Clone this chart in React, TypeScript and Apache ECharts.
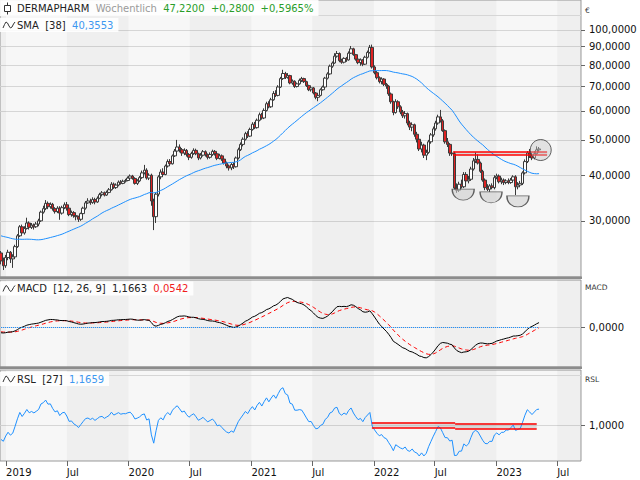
import React, { useEffect, useRef } from 'react';
import * as echarts from 'echarts';

const FONT = '"DejaVu Sans", Verdana, sans-serif';

// ---------- data (weekly candles, week starting Monday) ----------
const firstWeek = '2018-12-17';
const xRange = ['2018-12-14', '2023-09-10'];

// closes before the visible window (needed for SMA / MACD / RSL warm-up)
const warmupClose = [
  28.0, 27.2, 26.6, 26.0, 26.4, 25.8, 26.2,
  26.8, 27.4, 27.8, 28.2, 27.6, 28.0, 28.4, 28.0, 28.6, 28.2,
  28.8, 29.4, 29.8, 30.4, 30.8, 30.2, 30.6, 30.0, 29.6, 29.4, 29.2,
  28.6, 28.0, 27.6, 27.2, 27.4, 26.8, 25.4, 24.6, 24.6, 24.2, 23.8, 23.9, 24.0, 23.2, 23.0, 24.5,
];

const openVals = [
  24.5, 23.3, 22.6, 23.8, 24.6, 23.6, 23.9, 25.5, 27.3, 28.9,
  27.8, 28.6, 29.6, 28.8, 29.2, 28.9, 29.4, 30.0, 31.7, 32.4,
  33.5, 32.8, 33.3, 32.4, 31.8, 32.5, 31.5, 32.6, 33.2, 32.5,
  31.2, 31.6, 31.0, 30.8, 30.3, 31.4, 32.5, 33.6, 34.0, 33.7,
  34.3, 33.8, 34.6, 35.4, 35.8, 35.3, 35.9, 36.5, 37.8, 37.0,
  37.6, 38.3, 38.0, 38.5, 38.7, 39.3, 39.8, 39.2, 38.0, 38.6,
  39.4, 40.6, 41.3, 39.3, 40.0, 34.0, 30.8, 35.5, 39.6, 40.8,
  40.2, 42.4, 43.6, 43.0, 45.2, 46.6, 47.8, 47.0, 46.0, 46.8,
  45.6, 44.8, 45.9, 46.8, 45.8, 44.6, 45.4, 46.4, 45.5, 44.8,
  45.6, 46.5, 45.8, 44.5, 45.2, 44.3, 43.2, 42.4, 41.9, 42.8,
  42.2, 44.6, 47.0, 48.6, 50.2, 52.0, 51.2, 53.4, 55.2, 54.0,
  56.6, 58.6, 57.4, 60.2, 62.8, 61.6, 64.4, 67.0, 66.2, 69.8,
  73.6, 76.0, 74.2, 75.0, 71.6, 72.4, 70.0, 71.2, 72.8, 73.6,
  72.2, 70.4, 68.6, 69.4, 67.2, 65.4, 66.2, 68.6, 69.8, 73.8,
  75.8, 79.6, 81.2, 84.8, 86.2, 82.4, 81.6, 83.6, 82.8, 86.4,
  88.8, 85.6, 83.2, 81.4, 82.8, 80.6, 84.2, 86.8, 89.6, 79.2,
  76.4, 74.0, 72.2, 73.4, 71.0, 70.2, 66.8, 63.6, 59.4, 63.6,
  61.6, 59.6, 58.2, 59.0, 55.6, 54.2, 55.0, 51.8, 50.2, 47.2,
  48.4, 45.4, 46.2, 49.4, 51.6, 53.6, 55.6, 57.8, 56.4, 53.0,
  49.4, 48.6, 46.0, 45.8, 36.9, 36.4, 37.8, 37.2, 40.2, 38.6,
  39.0, 41.6, 43.8, 44.2, 43.2, 41.0, 38.8, 37.0, 36.6, 37.4,
  37.0, 39.4, 39.8, 38.4, 38.8, 38.2, 38.6, 38.2, 38.8, 39.6,
  37.2, 37.6, 38.0, 40.6, 43.6, 46.0, 45.4, 44.6, 45.8, 46.94,
];

const highVals = [
  24.8, 23.8, 24.2, 25.0, 24.8, 24.3, 25.8, 27.6, 29.2, 29.3,
  29.0, 30.6, 29.9, 29.6, 29.5, 29.8, 30.4, 32.0, 33.0, 34.2,
  33.9, 33.7, 33.6, 32.7, 32.9, 32.9, 33.0, 33.7, 33.8, 32.8,
  32.0, 31.9, 31.3, 31.0, 31.6, 32.8, 34.0, 34.6, 34.5, 34.8,
  34.7, 35.0, 35.8, 36.2, 36.1, 36.3, 36.9, 38.3, 38.2, 38.0,
  38.7, 38.8, 38.9, 39.1, 39.7, 40.2, 40.1, 39.5, 39.0, 39.8,
  41.2, 42.7, 41.8, 40.5, 40.4, 34.5, 35.8, 40.0, 41.5, 41.8,
  42.8, 44.2, 44.3, 45.6, 47.2, 50.0, 48.6, 47.5, 47.4, 47.2,
  46.0, 46.4, 47.4, 47.3, 46.1, 46.0, 46.9, 46.8, 45.9, 46.2,
  47.0, 46.9, 46.1, 45.8, 45.6, 44.6, 43.6, 42.8, 43.2, 43.4,
  45.0, 47.6, 49.2, 50.8, 52.6, 52.8, 54.0, 55.9, 56.0, 57.2,
  59.4, 59.3, 61.0, 63.6, 63.8, 65.2, 68.0, 68.4, 70.6, 74.4,
  77.8, 76.8, 76.2, 75.4, 73.2, 72.8, 71.8, 73.6, 74.4, 74.0,
  72.6, 70.8, 70.0, 69.8, 67.6, 66.8, 69.2, 70.4, 74.4, 76.6,
  80.4, 82.0, 86.4, 87.6, 86.8, 83.4, 84.2, 84.4, 87.4, 90.4,
  89.4, 86.0, 83.8, 83.6, 83.2, 85.0, 87.8, 91.0, 91.2, 80.0,
  77.2, 74.6, 74.2, 73.8, 71.6, 70.6, 67.4, 64.0, 64.6, 64.2,
  62.2, 60.4, 60.0, 59.4, 56.4, 55.8, 55.4, 52.6, 50.8, 49.4,
  48.8, 47.0, 50.0, 52.2, 54.4, 56.4, 58.6, 60.4, 57.0, 53.4,
  50.6, 49.0, 46.8, 46.4, 38.0, 38.4, 38.9, 40.8, 40.8, 39.8,
  42.2, 44.6, 46.2, 45.6, 43.6, 41.4, 39.2, 37.8, 37.8, 38.0,
  40.0, 40.4, 40.2, 39.4, 39.2, 39.0, 39.2, 39.3, 40.0, 40.0,
  38.3, 38.6, 41.0, 44.2, 46.6, 47.2, 46.2, 46.6, 48.0, 47.8,
];

const lowVals = [
  22.8, 22.0, 22.3, 23.4, 23.0, 22.3, 23.6, 25.3, 27.1, 27.4,
  27.5, 28.4, 28.4, 28.5, 28.4, 28.7, 29.0, 29.8, 31.4, 32.1,
  32.3, 32.4, 32.0, 31.4, 31.5, 30.2, 31.2, 32.3, 32.0, 30.9,
  30.8, 30.6, 30.1, 29.8, 30.0, 31.2, 32.2, 33.4, 33.2, 33.4,
  33.3, 33.6, 34.4, 35.0, 35.0, 35.1, 35.7, 36.3, 36.7, 36.7,
  37.3, 37.7, 37.8, 38.2, 38.5, 39.0, 38.9, 37.7, 37.6, 38.3,
  39.1, 40.2, 38.9, 38.8, 33.0, 28.3, 29.6, 35.0, 39.0, 39.6,
  40.0, 42.0, 42.5, 42.8, 44.9, 46.2, 46.2, 45.2, 45.4, 45.0,
  44.0, 44.4, 45.5, 45.4, 44.0, 44.2, 45.0, 45.0, 44.2, 44.4,
  45.2, 45.3, 44.0, 44.2, 43.8, 42.8, 41.8, 41.2, 41.3, 41.6,
  42.0, 44.2, 46.6, 48.0, 49.8, 50.6, 50.9, 53.0, 53.5, 53.7,
  56.2, 56.8, 57.0, 59.8, 61.0, 61.2, 64.0, 65.5, 65.8, 69.4,
  73.0, 73.4, 73.6, 71.0, 70.8, 69.4, 69.6, 70.8, 72.0, 71.6,
  69.8, 68.0, 67.8, 66.6, 64.6, 63.8, 65.8, 68.2, 69.4, 73.2,
  75.4, 78.8, 80.8, 84.0, 81.6, 80.8, 81.0, 81.8, 82.4, 86.0,
  85.0, 82.4, 80.6, 79.8, 79.6, 80.2, 83.6, 86.2, 78.4, 75.6,
  73.2, 71.4, 71.0, 70.2, 69.0, 66.0, 62.8, 58.4, 59.0, 60.8,
  58.8, 57.4, 57.2, 54.8, 53.2, 52.8, 51.0, 49.2, 46.6, 46.2,
  44.6, 44.0, 45.8, 48.8, 51.0, 53.0, 55.0, 55.8, 52.6, 48.8,
  47.8, 45.2, 45.2, 36.5, 35.8, 36.0, 36.8, 36.9, 38.2, 38.0,
  38.6, 41.2, 43.2, 42.8, 40.6, 38.4, 36.4, 36.2, 36.0, 36.6,
  36.6, 39.0, 38.0, 37.8, 37.6, 37.8, 37.8, 37.9, 38.4, 35.3,
  36.6, 37.1, 37.6, 40.2, 43.2, 44.6, 44.0, 44.2, 45.4, 46.2,
];

const closeVals = [
  23.3, 22.6, 23.8, 24.6, 23.6, 23.9, 25.5, 27.3, 28.9, 27.8,
  28.6, 29.6, 28.8, 29.2, 28.9, 29.4, 30.0, 31.7, 32.4, 33.5,
  32.8, 33.3, 32.4, 31.8, 32.5, 31.5, 32.6, 33.2, 32.5, 31.2,
  31.6, 31.0, 30.8, 30.3, 31.4, 32.5, 33.6, 34.0, 33.7, 34.3,
  33.8, 34.6, 35.4, 35.8, 35.3, 35.9, 36.5, 37.8, 37.0, 37.6,
  38.3, 38.0, 38.5, 38.7, 39.3, 39.8, 39.2, 38.0, 38.6, 39.4,
  40.6, 41.3, 39.3, 40.0, 34.0, 30.8, 35.5, 39.6, 40.8, 40.2,
  42.4, 43.6, 43.0, 45.2, 46.6, 47.8, 47.0, 46.0, 46.8, 45.6,
  44.8, 45.9, 46.8, 45.8, 44.6, 45.4, 46.4, 45.5, 44.8, 45.6,
  46.5, 45.8, 44.5, 45.2, 44.3, 43.2, 42.4, 41.9, 42.8, 42.2,
  44.6, 47.0, 48.6, 50.2, 52.0, 51.2, 53.4, 55.2, 54.0, 56.6,
  58.6, 57.4, 60.2, 62.8, 61.6, 64.4, 67.0, 66.2, 69.8, 73.6,
  76.0, 74.2, 75.0, 71.6, 72.4, 70.0, 71.2, 72.8, 73.6, 72.2,
  70.4, 68.6, 69.4, 67.2, 65.4, 66.2, 68.6, 69.8, 73.8, 75.8,
  79.6, 81.2, 84.8, 86.2, 82.4, 81.6, 83.6, 82.8, 86.4, 88.8,
  85.6, 83.2, 81.4, 82.8, 80.6, 84.2, 86.8, 89.6, 79.2, 76.4,
  74.0, 72.2, 73.4, 71.0, 70.2, 66.8, 63.6, 59.4, 63.6, 61.6,
  59.6, 58.2, 59.0, 55.6, 54.2, 55.0, 51.8, 50.2, 47.2, 48.4,
  45.4, 46.2, 49.4, 51.6, 53.6, 55.6, 57.8, 56.4, 53.0, 49.4,
  48.6, 46.0, 45.8, 36.9, 36.4, 37.8, 37.2, 40.2, 38.6, 39.0,
  41.6, 43.8, 44.2, 43.2, 41.0, 38.8, 37.0, 36.6, 37.4, 37.0,
  39.4, 39.8, 38.4, 38.8, 38.2, 38.6, 38.2, 38.8, 39.6, 37.2,
  37.6, 38.0, 40.6, 43.6, 46.0, 45.4, 44.6, 45.8, 46.94, 47.22,
];

// ---------- axes ----------
const priceTicks = [30, 40, 50, 60, 70, 80, 90, 100];
const priceExtraGrid = [110];
const macdTicks = [0];
const rslTicks = [1];
const rslExtraGrid = [1.5];
const xTickDates = [
  '2019-01-01', '2019-07-01', '2020-01-01', '2020-07-01', '2021-01-01',
  '2021-07-01', '2022-01-01', '2022-07-01', '2023-01-01', '2023-07-01',
];
const shadedHalfYears = [
  ['2018-07-01', '2019-01-01'], ['2019-07-01', '2020-01-01'], ['2020-07-01', '2021-01-01'],
  ['2021-07-01', '2022-01-01'], ['2022-07-01', '2023-01-01'], ['2023-07-01', '2024-01-01'],
];

// ---------- annotations ----------
const priceChannel = [['2022-08-25', '2023-06-01', 45.5, 46.3]];
const rslChannels = [
  ['2021-12-26', '2022-08-31', 0.98, 1.034],
  ['2022-08-31', '2023-05-01', 0.97, 1.024],
];
const bowlMarks = [['2022-09-24', 35.4], ['2022-12-16', 34.8], ['2023-03-06', 33.9]];
const ringMarks = [['2023-05-13', 46.9]];

// ---------- header texts ----------
const mainHeader = [['DERMAPHARM', 'k'], ['Wöchentlich', 'm'], ['47,2200', 'g'], ['+0,2800', 'g'], ['+0,5965%', 'g']];
const smaHeader = [['SMA', 'k'], ['[38]', 'k'], ['40,3553', 'b']];
const macdHeader = [['MACD', 'k'], ['[12, 26, 9]', 'k'], ['1,1663', 'k'], ['0,0542', 'r']];
const rslHeader = [['RSL', 'k'], ['[27]', 'k'], ['1,1659', 'b']];

const SMA_LEN = 38;
const RSL_LEN = 27;
const MACD_FAST = 12;
const MACD_SLOW = 26;
const MACD_SIG = 9;

// ---------- helpers ----------
function ts(s: string) {
  const [y, m, d] = s.split('-').map(Number);
  return new Date(y, m - 1, d).getTime();
}
function smaOf(arr: number[], n: number) {
  return arr.map((_, i) => {
    if (i < n - 1) return NaN;
    let s = 0;
    for (let k = i - n + 1; k <= i; k++) s += arr[k];
    return s / n;
  });
}
function emaOf(arr: number[], n: number) {
  const a = 2 / (n + 1);
  const out: number[] = [];
  let prev = arr[0];
  arr.forEach((v, i) => {
    prev = i === 0 ? v : a * v + (1 - a) * prev;
    out.push(prev);
  });
  return out;
}
const fmt4 = (v: number) => (Math.abs(v) < 1e-9 ? 0 : v).toFixed(4).replace('.', ',');
const lg = (v: number) => Math.log10(v);

function buildOption() {
  const t0 = ts(firstWeek);
  const dates = closeVals.map((_, i) => t0 + i * 7 * 86400000);
  const last = dates[dates.length - 1];
  const xMin = ts(xRange[0]);
  const xMax = ts(xRange[1]);

  const allClose = warmupClose.concat(closeVals);
  const W = warmupClose.length;
  const sma38 = smaOf(allClose, SMA_LEN).slice(W);
  const sma27 = smaOf(allClose, RSL_LEN).slice(W);
  const emaF = emaOf(allClose, MACD_FAST);
  const emaS = emaOf(allClose, MACD_SLOW);
  const macdAll = emaF.map((v, i) => v - emaS[i]);
  const sigAll = emaOf(macdAll, MACD_SIG);
  const macd = macdAll.slice(W);
  const sig = sigAll.slice(W);
  const rsl = closeVals.map((c, i) => c / sma27[i]);

  const mainYMin = 1.32329;
  const mainYMax = 2.08219;

  const bands = shadedHalfYears.map(([a, b]) => [
    { xAxis: Math.max(ts(a), xMin) },
    { xAxis: Math.min(ts(b), xMax) },
  ]);
  const xTicks = xTickDates.map(ts);

  const gridBase = {
    left: 0, right: 59, show: true, backgroundColor: '#f7f7f7',
    borderColor: '#9a9a9a', borderWidth: 1, containLabel: false, outerBoundsMode: 'none',
  };

  const xAxisFor = (k: number) => ({
    type: 'value', gridIndex: k, min: xMin, max: xMax, show: k === 2,
    axisLine: { show: false },
    axisTick: { show: k === 2, customValues: xTicks, length: 5, lineStyle: { color: '#666' } },
    axisLabel: {
      show: k === 2, customValues: xTicks, align: 'left', margin: 6, color: '#111',
      fontFamily: FONT, fontSize: 10,
      formatter: (v: number) => {
        const d = new Date(v);
        return d.getMonth() === 0 ? String(d.getFullYear()) : 'Jul';
      },
    },
    splitLine: { show: false },
  });

  const yAxisFor = (k: number, min: number, max: number, ticks: number[], fmt: (v: number) => string) => ({
    type: 'value', gridIndex: k, position: 'right', min, max,
    axisLine: { show: false },
    axisTick: { show: true, customValues: ticks, length: 4, lineStyle: { color: '#666' } },
    axisLabel: { customValues: ticks, formatter: fmt, margin: 8, color: '#111', fontFamily: FONT, fontSize: 10 },
    splitLine: { show: true, lineStyle: { color: '#d6d6d6', width: 1 } },
  });

  const hline = (a: number, b: number, v: number) => [{ coord: [a, v] }, { coord: [b, v] }];
  const markLineBase = { silent: true, symbol: ['none', 'none'], label: { show: false }, emphasis: { disabled: true } };

  const helper = (k: number, y: number) => ({
    type: 'line', xAxisIndex: k, yAxisIndex: k, data: [[xMin, y]], symbol: 'none',
    lineStyle: { opacity: 0 }, silent: true, z: 1, tooltip: { show: false },
  });

  const rich = {
    k: { fill: '#222', font: `10px ${FONT}` },
    m: { fill: '#9a9a9a', font: `10px ${FONT}` },
    g: { fill: '#2a9d2a', font: `10px ${FONT}` },
    b: { fill: '#3d98f0', font: `10px ${FONT}` },
    r: { fill: '#f01c1c', font: `10px ${FONT}` },
  };
  const header = (y: number, parts: string[][], padding: number[]) => ({
    type: 'text', x: 0, y, z: 100, silent: true,
    style: {
      text: parts.map(([t, c]) => `{${c}|${t}}`).join('  '),
      rich, font: `10px ${FONT}`, fill: '#222',
      backgroundColor: 'rgba(255,255,255,0.88)', padding, verticalAlign: 'top', align: 'left',
    },
  });
  const wave = (x0: number, cy: number) => ({
    type: 'polyline', z: 102, silent: true,
    shape: {
      points: [[0, 3], [1.5, -0.5], [3, -3], [4.5, -2], [6, 1], [7.5, 3], [9, 2], [10.5, -1], [12, -3]]
        .map(([dx, dy]) => [x0 + dx, cy + dy]),
    },
    style: { stroke: '#333', lineWidth: 1, fill: null },
  });
  const unit = (y: number, text: string) => ({
    type: 'text', x: 585, y, z: 100, silent: true,
    style: { text, fill: '#333', font: `7.5px ${FONT}`, verticalAlign: 'middle', align: 'left' },
  });

  return {
    animation: false,
    backgroundColor: '#ffffff',
    grid: [
      { ...gridBase, top: 0, height: 277 },
      { ...gridBase, top: 280, height: 87 },
      { ...gridBase, top: 370, height: 91 },
    ],
    xAxis: [xAxisFor(0), xAxisFor(1), xAxisFor(2)],
    yAxis: [
      yAxisFor(0, mainYMin, mainYMax, priceTicks.map(lg), (v) => fmt4(Math.pow(10, v))),
      yAxisFor(1, -9.5, 11.25, macdTicks, fmt4),
      yAxisFor(2, 0.647, 1.557, rslTicks, fmt4),
    ],
    series: [
      // ---- main panel ----
      {
        ...helper(0, mainYMin),
        markArea: { silent: true, itemStyle: { color: 'rgba(0,0,0,0.032)' }, data: bands },
        markLine: {
          ...markLineBase, lineStyle: { color: '#d6d6d6', width: 1, type: 'solid' },
          data: priceExtraGrid.map((v) => ({ yAxis: lg(v) })),
        },
      },
      {
        type: 'candlestick', xAxisIndex: 0, yAxisIndex: 0, barWidth: 3, z: 2,
        data: dates.map((d, i) => [d, lg(openVals[i]), lg(closeVals[i]), lg(lowVals[i]), lg(highVals[i])]),
        itemStyle: { color: '#ffffff', color0: '#e02222', borderColor: '#3a3a3a', borderColor0: '#3a3a3a', borderWidth: 1 },
        silent: true,
      },
      {
        type: 'line', xAxisIndex: 0, yAxisIndex: 0, z: 3, symbol: 'none', silent: true,
        data: dates.map((d, i) => [d, lg(sma38[i])]),
        lineStyle: { color: '#1e90ff', width: 1 },
      },
      {
        ...helper(0, mainYMin), z: 4,
        markArea: {
          silent: true, itemStyle: { color: 'rgba(185,185,185,0.45)' },
          data: priceChannel.map(([a, b, lo, hi]) => [
            { xAxis: ts(a as string), yAxis: lg(hi as number) },
            { xAxis: ts(b as string), yAxis: lg(lo as number) },
          ]),
        },
        markLine: {
          ...markLineBase, lineStyle: { color: '#ff0000', width: 1.5, type: 'solid' },
          data: priceChannel.flatMap(([a, b, lo, hi]) => [
            hline(ts(a as string), ts(b as string), lg(hi as number)),
            hline(ts(a as string), ts(b as string), lg(lo as number)),
          ]),
        },
      },
      {
        type: 'scatter', xAxisIndex: 0, yAxisIndex: 0, z: 6, silent: true,
        data: bowlMarks.map(([d, p]) => [ts(d as string), lg(p as number)]),
        symbol: 'path://M0,0 C0,13.333 20,13.333 20,0 Z', symbolSize: [22, 11],
        itemStyle: { color: 'rgba(205,205,205,0.7)', borderColor: '#3c3c3c', borderWidth: 1 },
      },
      {
        type: 'scatter', xAxisIndex: 0, yAxisIndex: 0, z: 6, silent: true,
        data: ringMarks.map(([d, p]) => [ts(d as string), lg(p as number)]),
        symbol: 'circle', symbolSize: 21,
        itemStyle: { color: 'rgba(200,200,200,0.55)', borderColor: '#3c3c3c', borderWidth: 1 },
      },
      // ---- MACD panel ----
      {
        ...helper(1, 0),
        markArea: { silent: true, itemStyle: { color: 'rgba(0,0,0,0.032)' }, data: bands },
      },
      {
        type: 'line', xAxisIndex: 1, yAxisIndex: 1, z: 3, symbol: 'none', silent: true,
        data: dates.map((d, i) => [d, sig[i]]),
        lineStyle: { color: '#ff0000', width: 1, type: [4, 3] },
      },
      {
        type: 'line', xAxisIndex: 1, yAxisIndex: 1, z: 4, symbol: 'none', silent: true,
        data: dates.map((d, i) => [d, macd[i]]),
        lineStyle: { color: '#000000', width: 1 },
        markLine: {
          ...markLineBase, lineStyle: { color: '#1e90ff', width: 1, type: 'dotted' },
          data: [hline(dates[0], last, 0)],
        },
      },
      // ---- RSL panel ----
      {
        ...helper(2, 1),
        markArea: { silent: true, itemStyle: { color: 'rgba(0,0,0,0.032)' }, data: bands },
        markLine: {
          ...markLineBase, lineStyle: { color: '#d6d6d6', width: 1, type: 'solid' },
          data: rslExtraGrid.map((v) => ({ yAxis: v })),
        },
      },
      {
        type: 'line', xAxisIndex: 2, yAxisIndex: 2, z: 3, symbol: 'none', silent: true,
        data: dates.map((d, i) => [d, rsl[i]]),
        lineStyle: { color: '#1e90ff', width: 1 },
      },
      {
        ...helper(2, 1), z: 4,
        markArea: {
          silent: true, itemStyle: { color: 'rgba(185,185,185,0.45)' },
          data: rslChannels.map(([a, b, lo, hi]) => [
            { xAxis: ts(a as string), yAxis: hi as number },
            { xAxis: ts(b as string), yAxis: lo as number },
          ]),
        },
        markLine: {
          ...markLineBase, lineStyle: { color: '#ff0000', width: 1.5, type: 'solid' },
          data: rslChannels.flatMap(([a, b, lo, hi]) => [
            hline(ts(a as string), ts(b as string), hi as number),
            hline(ts(a as string), ts(b as string), lo as number),
          ]),
        },
      },
    ],
    graphic: [
      { type: 'rect', z: 100, silent: true, shape: { x: 0, y: 276.5, width: 582, height: 2.5 }, style: { fill: '#8c8c8c' } },
      { type: 'rect', z: 100, silent: true, shape: { x: 0, y: 366.5, width: 582, height: 2.5 }, style: { fill: '#8c8c8c' } },
      header(0, mainHeader, [3, 5, 3, 17]),
      header(18, smaHeader, [2, 5, 2, 17]),
      header(281.5, macdHeader, [2, 5, 2, 17]),
      header(372, rslHeader, [2, 5, 2, 17]),
      { type: 'line', z: 102, silent: true, shape: { x1: 7.5, y1: 2.5, x2: 7.5, y2: 14.5 }, style: { stroke: '#333', lineWidth: 1 } },
      { type: 'rect', z: 103, silent: true, shape: { x: 4.5, y: 5.5, width: 6, height: 6 }, style: { fill: '#fff', stroke: '#333', lineWidth: 1 } },
      wave(3, 25),
      wave(3, 288.5),
      wave(3, 379),
      unit(10, '€'),
      unit(287, 'MACD'),
      unit(379, 'RSL'),
    ],
  };
}

export default function App() {
  const ref = useRef<HTMLDivElement>(null);
  useEffect(() => {
    if (!ref.current) return;
    const chart = echarts.init(ref.current, undefined, { renderer: 'svg' });
    chart.setOption(buildOption() as any);
    return () => chart.dispose();
  }, []);
  return (
    <div
      ref={ref}
      style={{ position: 'fixed', left: 0, top: 0, width: 640, height: 480, background: '#fff' }}
    />
  );
}
